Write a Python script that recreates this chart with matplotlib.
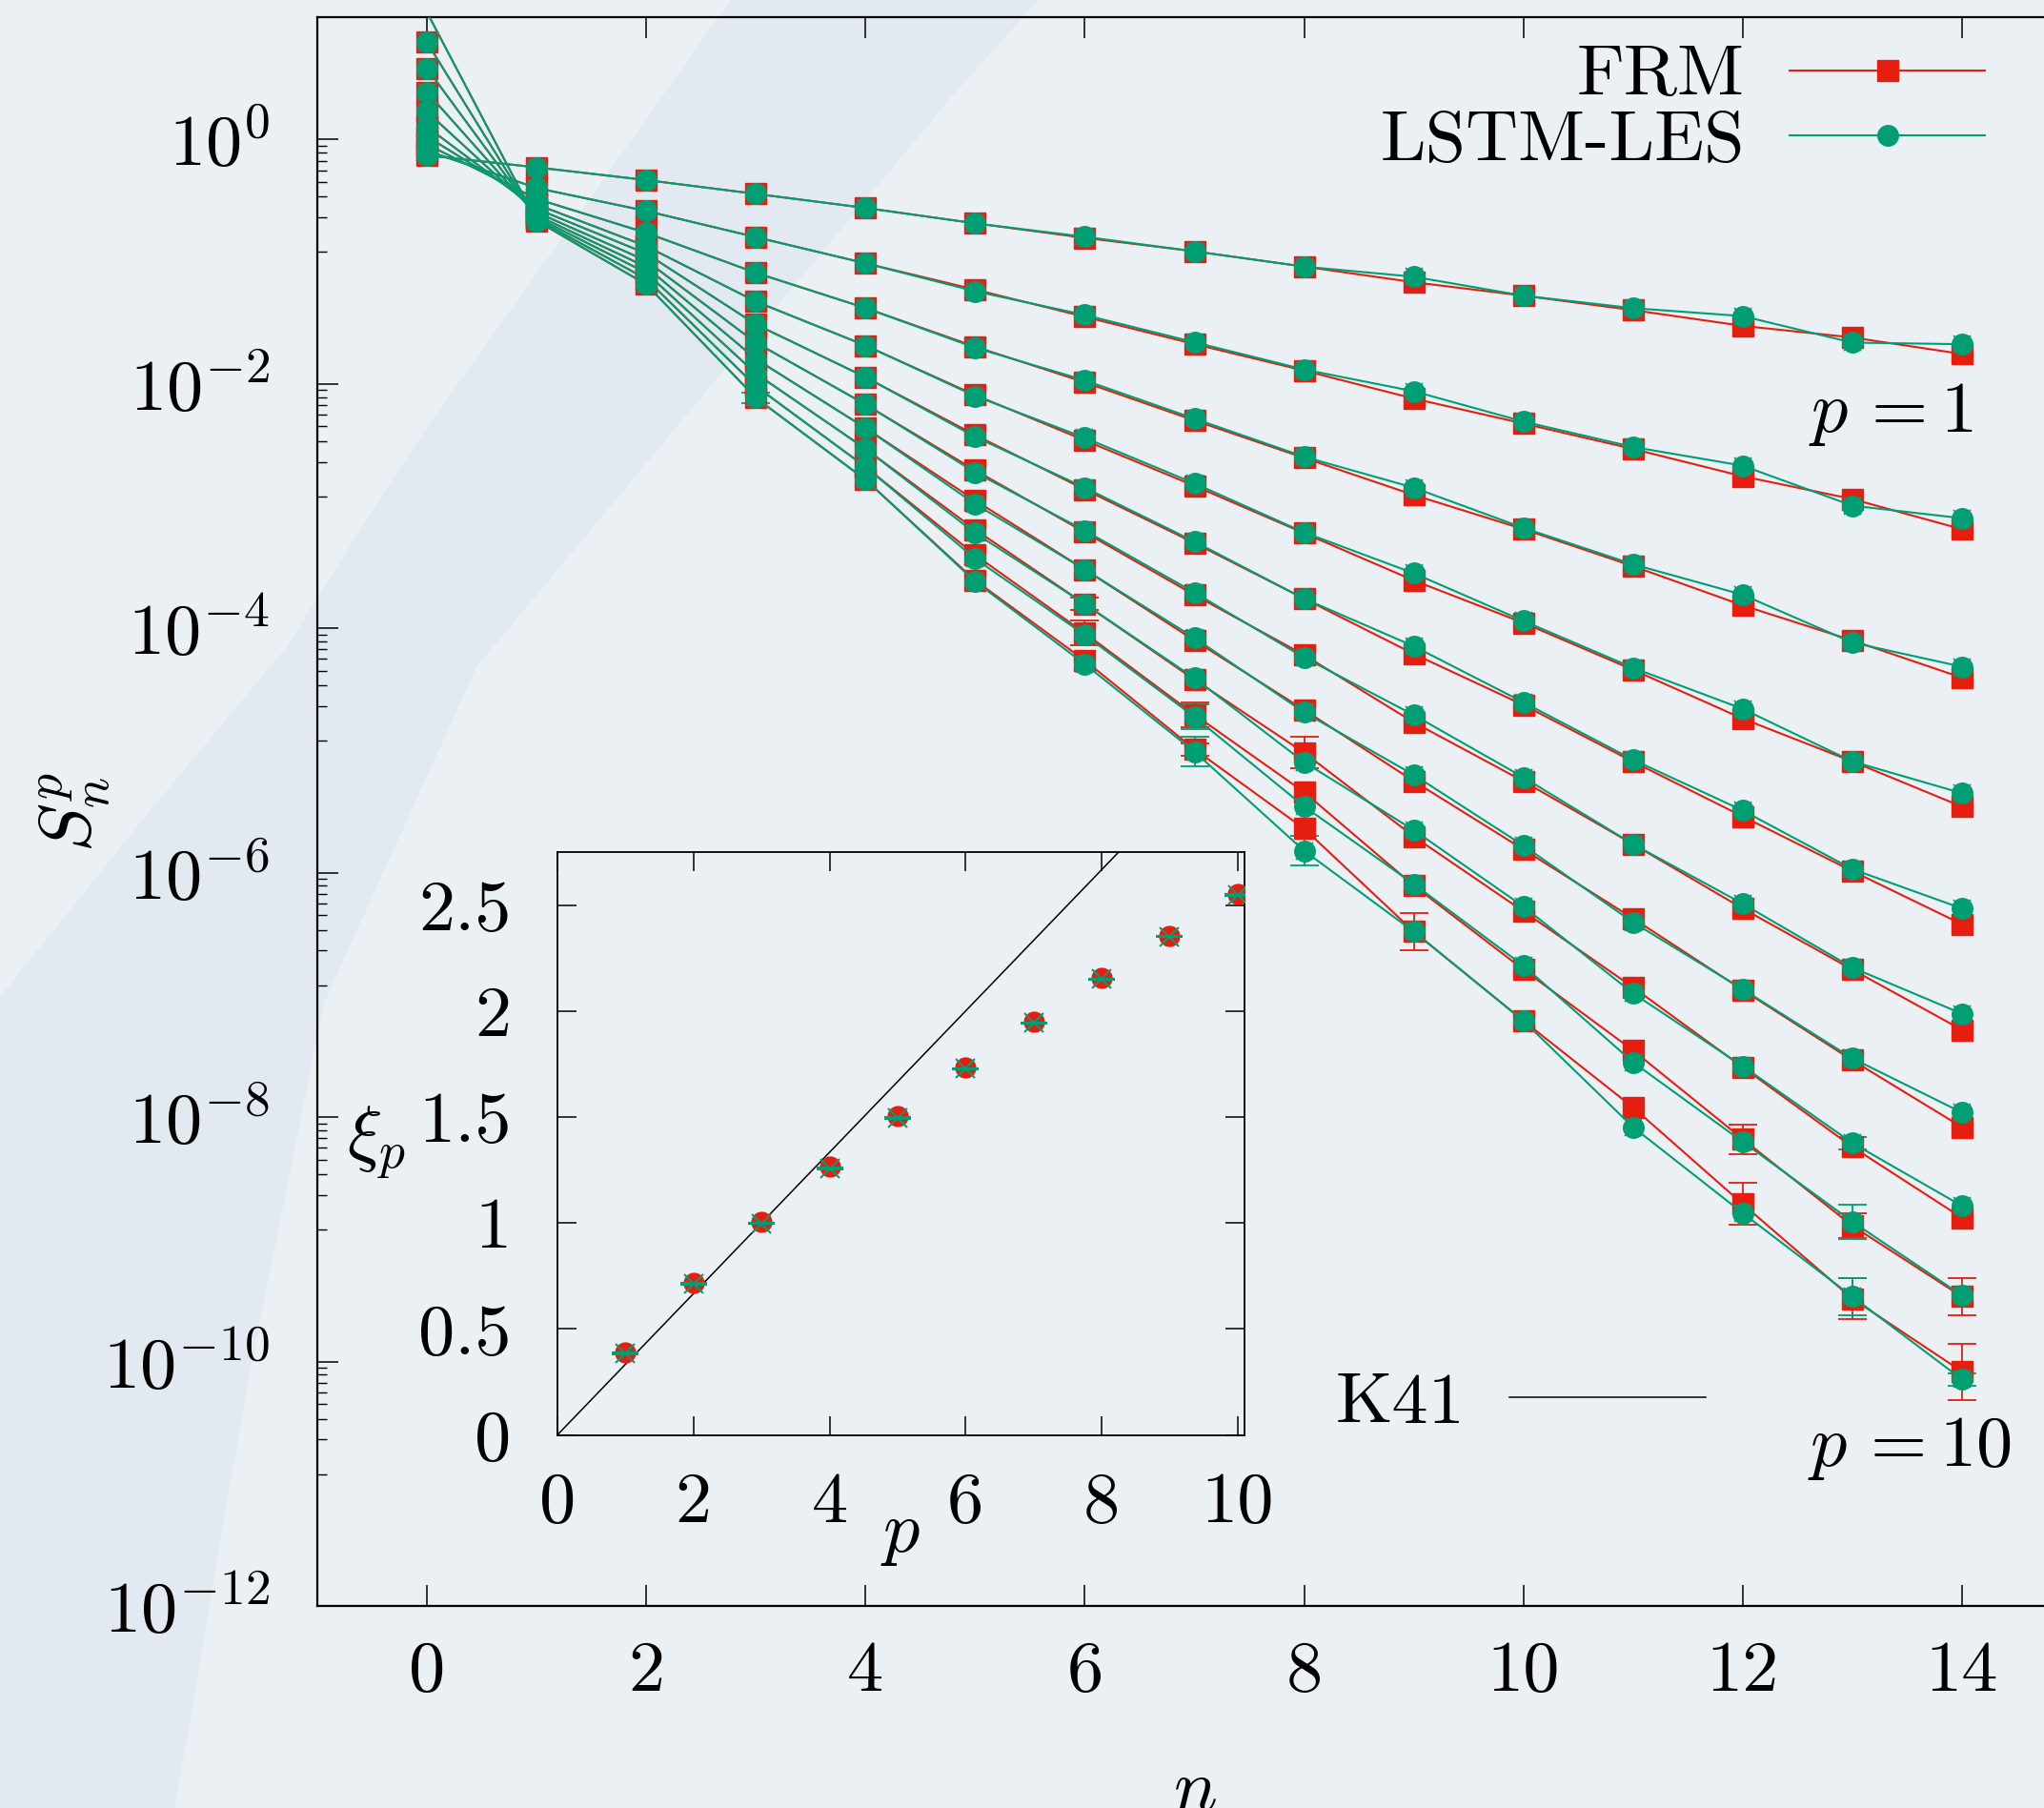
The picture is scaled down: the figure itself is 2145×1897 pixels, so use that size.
import numpy as np
import matplotlib
matplotlib.use('Agg')
import matplotlib.pyplot as plt
from matplotlib.patches import Polygon
from matplotlib.lines import Line2D
from matplotlib.ticker import FixedLocator, NullFormatter, NullLocator

plt.rcParams.update({
    'font.family': 'serif',
    'font.serif': ['cmr10'],
    'mathtext.fontset': 'cm',
    'axes.unicode_minus': False,
    'axes.formatter.use_mathtext': True,
})

# ---------------- data ----------------
n_shells = np.arange(15)
orders = np.arange(1, 11)

# log10 S_n^p, one row per order p = 1..10, columns n = 0..14
frm_log10 = [
    [-0.131, -0.229, -0.333, -0.446, -0.561, -0.687, -0.806, -0.916, -1.041, -1.169, -1.279, -1.397, -1.526, -1.621, -1.756],
    [-0.093, -0.398, -0.586, -0.800, -1.014, -1.229, -1.452, -1.675, -1.892, -2.121, -2.325, -2.533, -2.757, -2.943, -3.190],
    [-0.041, -0.487, -0.765, -1.092, -1.380, -1.696, -1.988, -2.300, -2.606, -2.910, -3.189, -3.492, -3.813, -4.100, -4.405],
    [0.024, -0.532, -0.874, -1.327, -1.687, -2.092, -2.463, -2.835, -3.222, -3.609, -3.956, -4.340, -4.740, -5.090, -5.460],
    [0.102, -0.568, -0.934, -1.514, -1.946, -2.419, -2.865, -3.303, -3.758, -4.210, -4.628, -5.092, -5.540, -5.987, -6.422],
    [0.226, -0.597, -0.993, -1.663, -2.169, -2.708, -3.215, -3.728, -4.219, -4.770, -5.252, -5.767, -6.293, -6.793, -7.286],
    [0.387, -0.621, -1.044, -1.797, -2.362, -2.954, -3.520, -4.100, -4.668, -5.251, -5.810, -6.374, -6.960, -7.535, -8.082],
    [0.581, -0.639, -1.092, -1.916, -2.532, -3.193, -3.802, -4.421, -5.018, -5.704, -6.316, -6.938, -7.592, -8.244, -8.824],
    [0.794, -0.654, -1.142, -2.020, -2.680, -3.400, -4.040, -4.707, -5.341, -6.106, -6.793, -7.454, -8.180, -8.889, -9.469],
    [1.040, -0.666, -1.187, -2.115, -2.785, -3.609, -4.264, -4.990, -5.640, -6.482, -7.212, -7.921, -8.711, -9.486, -10.082],
]
lstm_log10 = [
    [-0.131, -0.229, -0.333, -0.446, -0.561, -0.687, -0.797, -0.916, -1.041, -1.124, -1.279, -1.381, -1.446, -1.663, -1.676],
    [-0.093, -0.398, -0.586, -0.800, -1.014, -1.243, -1.437, -1.660, -1.883, -2.061, -2.309, -2.517, -2.670, -2.997, -3.100],
    [-0.041, -0.487, -0.765, -1.092, -1.380, -1.705, -1.972, -2.285, -2.597, -2.850, -3.179, -3.477, -3.726, -4.117, -4.315],
    [0.024, -0.532, -0.874, -1.327, -1.687, -2.100, -2.442, -2.815, -3.216, -3.550, -3.940, -4.324, -4.660, -5.090, -5.350],
    [0.102, -0.568, -0.934, -1.514, -1.946, -2.434, -2.850, -3.291, -3.758, -4.147, -4.606, -5.076, -5.491, -5.971, -6.293],
    [0.226, -0.597, -0.993, -1.663, -2.169, -2.725, -3.201, -3.708, -4.240, -4.710, -5.220, -5.767, -6.254, -6.777, -7.154],
    [0.387, -0.621, -1.044, -1.797, -2.362, -2.984, -3.520, -4.079, -4.688, -5.200, -5.778, -6.406, -6.954, -7.519, -7.963],
    [0.581, -0.639, -1.092, -1.916, -2.532, -3.222, -3.802, -4.408, -5.096, -5.652, -6.277, -6.987, -7.583, -8.212, -8.727],
    [0.794, -0.654, -1.142, -2.020, -2.680, -3.431, -4.055, -4.725, -5.458, -6.093, -6.761, -7.551, -8.202, -8.856, -9.459],
    [1.040, -0.666, -1.187, -2.115, -2.785, -3.618, -4.294, -5.010, -5.821, -6.482, -7.212, -8.082, -8.785, -9.469, -10.146],
]

# error bar half-widths in decades (only visible ones), rows p = 8, 9, 10
frm_err_p8 = [0, 0, 0, 0, 0, 0, 0.05, 0, 0.13, 0, 0, 0, 0, 0, 0]
frm_err_p9 = [0, 0, 0, 0, 0, 0, 0.10, 0.10, 0, 0, 0, 0, 0.12, 0.10, 0.15]
frm_err_p10 = [0, 0, 0, 0, 0, 0, 0, 0.05, 0, 0.15, 0, 0, 0.17, 0.17, 0.23]
lstm_err_p8 = [0, 0, 0, 0, 0, 0, 0, 0, 0, 0, 0, 0, 0, 0.05, 0]
lstm_err_p9 = [0, 0, 0, 0, 0, 0, 0, 0.10, 0, 0, 0, 0, 0, 0.14, 0]
lstm_err_p10 = [0, 0, 0, 0.04, 0, 0, 0, 0.12, 0.12, 0, 0, 0, 0, 0.15, 0.05]

# scaling exponents (inset)
xi_frm = [0.388, 0.718, 1.005, 1.264, 1.505, 1.732, 1.950, 2.156, 2.356, 2.550]
xi_lstm = [0.385, 0.712, 0.998, 1.258, 1.497, 1.727, 1.943, 2.150, 2.352, 2.548]
xi_lstm_err = [0.004] * 10
k41_p = np.array([0.0, 10.0])
k41_xi = k41_p / 3.0

ytick_exp = [0, -2, -4, -6, -8, -10, -12]
xtick_main = [0, 2, 4, 6, 8, 10, 12, 14]
xtick_in = [0, 2, 4, 6, 8, 10]
ytick_in = [0, 0.5, 1, 1.5, 2, 2.5]

# ---------------- style ----------------
RED = '#e51e10'
GREEN = '#009e73'
BG = '#ebf0f4'
BAND = '#e3e9f0'
FS = 55
W, H = 2145, 1897


def fx(x):
    return x / W


def fy(y):
    return 1 - y / H


fig = plt.figure(figsize=(W / 100, H / 100), dpi=100)
fig.patch.set_facecolor(BG)

band_px = [(1094, -5), (1000, 100), (500, 700), (340, 1052), (260, 1450), (183, 1900),
           (-5, 1900), (-5, 1052), (150, 860), (300, 680), (400, 521), (447, 450),
           (696, 100), (770, -5)]
fig.patches.append(Polygon([(fx(x), fy(y)) for x, y in band_px], closed=True,
                           transform=fig.transFigure, facecolor=BAND,
                           edgecolor='none', zorder=-10))

ax = fig.add_axes([fx(333), fy(1685), (2174 - 333) / W, (1685 - 18) / H])
ax.set_facecolor('none')
ax.set_xlim(-1, 15)
ax.set_yscale('log')
ax.set_ylim(1e-12, 10)

ymax = 10.0
err_frm = {8: frm_err_p8, 9: frm_err_p9, 10: frm_err_p10}
err_lstm = {8: lstm_err_p8, 9: lstm_err_p9, 10: lstm_err_p10}


def draw_series(rows, errs, color, marker, ms, cross=False):
    for i, row in enumerate(rows):
        p = i + 1
        S = 10.0 ** np.array(row)
        mask = list(S <= ymax)
        if cross:
            ax.plot(n_shells, S, linestyle='none', marker='x', ms=13.5, mew=1.2,
                    color=color, markevery=mask, zorder=3)
        ax.plot(n_shells, S, color=color, lw=1.5, marker=marker, ms=ms,
                mfc=color, mec=color, markevery=mask, zorder=3)
        if p in errs:
            e = np.array(errs[p])
            sel = e > 0
            lo = S[sel] - S[sel] * 10.0 ** (-e[sel])
            hi = S[sel] * 10.0 ** (e[sel]) - S[sel]
            ax.errorbar(n_shells[sel], S[sel], yerr=[lo, hi], fmt='none',
                        ecolor=color, elinewidth=1.3, capsize=11, capthick=1.3,
                        zorder=2)


draw_series(frm_log10, err_frm, RED, 's', 15.5)
draw_series(lstm_log10, err_lstm, GREEN, 'o', 15.5, cross=True)

ax.set_xticks(xtick_main)
ax.set_xticklabels([str(v) for v in xtick_main])
ax.set_yticks([10.0 ** e for e in ytick_exp])
ax.set_yticklabels([rf'$10^{{{e}}}$' for e in ytick_exp])
minor = [10.0 ** (d - 2) + k * (10.0 ** d - 10.0 ** (d - 2)) / 9
         for d in ytick_exp for k in range(1, 9)]
ax.yaxis.set_minor_locator(FixedLocator(minor))
ax.yaxis.set_minor_formatter(NullFormatter())
ax.xaxis.set_minor_locator(NullLocator())
ax.tick_params(which='both', direction='in', top=True, right=True)
ax.tick_params(which='major', length=15.8, width=1.1, labelsize=FS)
ax.tick_params(which='minor', length=7.2, width=1.0)
ax.tick_params(axis='x', which='major', pad=26)
ax.tick_params(axis='y', which='major', pad=36)
for s in ax.spines.values():
    s.set_linewidth(1.6)

ax.set_xlabel(r'$n$', fontsize=FS)
ax.xaxis.set_label_coords(0.5, -0.097)
ax.set_ylabel(r'$S_n^p$', fontsize=FS)
ax.yaxis.set_label_coords(-0.1168, 0.5)

ax.text(14.10, 10 ** -2.389, r'$p\,=1$', ha='right', va='baseline', fontsize=FS)
ax.text(14.45, 10 ** -10.852, r'$p\,=10$', ha='right', va='baseline', fontsize=FS)

handles = [Line2D([], [], color=RED, lw=1.5, marker='s', ms=15.5),
           Line2D([], [], color=GREEN, lw=1.5, marker='o', ms=15.5)]
leg = ax.legend(handles, ['FRM', 'LSTM-LES'], loc='upper right',
                bbox_to_anchor=(fx(2083), fy(47)), bbox_transform=fig.transFigure,
                frameon=False, markerfirst=False, fontsize=FS, handlelength=2.68,
                handletextpad=0.62, labelspacing=0.0, borderpad=0,
                borderaxespad=0, numpoints=1)

# ---------------- inset ----------------
ax_in = fig.add_axes([fx(585), fy(1505.5), (1306 - 585) / W, (1505.5 - 894) / H])
ax_in.set_facecolor('none')
k41_line, = ax_in.plot(k41_p, k41_xi, color='black', lw=1.1)
ax_in.plot(orders, xi_frm, linestyle='none', marker='o', ms=15, color=RED, zorder=3)
ax_in.errorbar(orders, xi_lstm, yerr=xi_lstm_err, fmt='x', color=GREEN, ms=15,
               mew=1.5, capsize=10, elinewidth=1.2, capthick=1.2, zorder=4)
ax_in.set_xlim(0, 10.1)
ax_in.set_ylim(0, 2.75)
ax_in.set_xticks(xtick_in)
ax_in.set_xticklabels([f'{v:g}' for v in xtick_in])
ax_in.set_yticks(ytick_in)
ax_in.set_yticklabels([f'{v:g}' for v in ytick_in])
ax_in.tick_params(which='both', direction='in', top=True, right=True,
                  length=14.4, width=1.1, labelsize=FS)
ax_in.tick_params(axis='x', pad=28)
ax_in.tick_params(axis='y', pad=35)
for s in ax_in.spines.values():
    s.set_linewidth(1.3)
ax_in.set_xlabel(r'$p$', fontsize=FS)
ax_in.xaxis.set_label_coords(0.5, -0.118)
ax_in.set_ylabel(r'$\xi_p$', fontsize=FS, rotation=0, ha='center', va='center')
ax_in.yaxis.set_label_coords(-0.2635, 0.5)

leg2 = ax_in.legend([k41_line], ['K41'], loc='lower left',
                    bbox_to_anchor=(fx(1402), fy(1508)), bbox_transform=fig.transFigure,
                    frameon=False, markerfirst=False, fontsize=FS, handlelength=2.7,
                    handletextpad=0.6, borderpad=0, borderaxespad=0)

fig.savefig('out.png', dpi=100, facecolor=BG)
